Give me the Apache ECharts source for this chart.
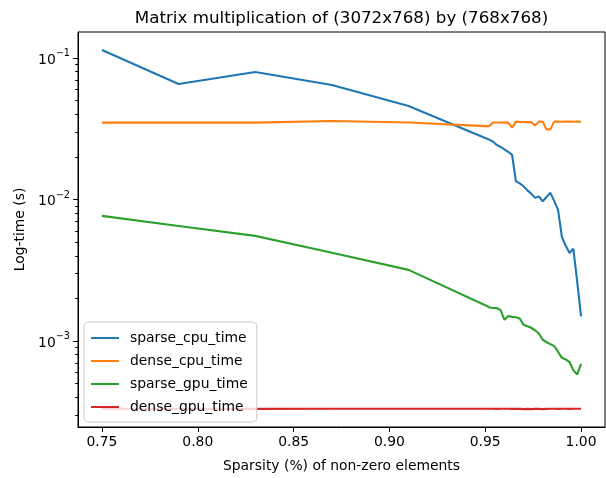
<!DOCTYPE html>
<html>
<head>
<meta charset="utf-8">
<script src="https://cdn.jsdelivr.net/npm/echarts@6/dist/echarts.min.js"></script>
<style>
  html, body { margin: 0; padding: 0; background: #fff; }
  #chart { width: 606px; height: 478px; }
</style>
</head>
<body>
<div id="chart"></div>
<script>
// sparsity values (x)
const sparsity = [
  0.75, 0.79, 0.83, 0.87, 0.91,
  0.95, 0.952, 0.954, 0.956, 0.958, 0.96, 0.962, 0.964, 0.966, 0.968,
  0.97, 0.972, 0.974, 0.976, 0.978, 0.98, 0.982, 0.984, 0.986, 0.988,
  0.99, 0.992, 0.994, 0.996, 0.998, 1.0
]

// timings in seconds
const sparseCpuTime = [
  0.1139, 0.0655, 0.0796, 0.0645, 0.0458,
  0.0272, 0.0265, 0.0257, 0.0243, 0.0235, 0.0226, 0.0217, 0.0207, 0.0135, 0.0130,
  0.0124, 0.0116, 0.0110, 0.01026, 0.01051, 0.00971, 0.01042, 0.01114, 0.00977, 0.00845,
  0.00545, 0.00470, 0.00419, 0.00448, 0.00262, 0.00149
]
const denseCpuTime = [
  0.0349, 0.0349, 0.0349, 0.0359, 0.0350,
  0.0330, 0.0329, 0.0349, 0.0350, 0.0350, 0.0349, 0.0349, 0.0322, 0.0355, 0.0353,
  0.0353, 0.0352, 0.0353, 0.0333, 0.0355, 0.0355, 0.0313, 0.0313, 0.0355, 0.0355,
  0.0354, 0.0355, 0.0355, 0.0354, 0.0355, 0.0354
]
const sparseGpuTime = [
  0.00766, 0.0065, 0.00553, 0.0042, 0.00318,
  0.00179, 0.00173, 0.00171, 0.00171, 0.00165, 0.00141, 0.00150, 0.00148, 0.00147, 0.00144,
  0.00130, 0.00127, 0.00124, 0.00119, 0.00113, 0.00102, 0.00098, 0.00095, 0.00092, 0.00084,
  0.00076, 0.00074, 0.00071, 0.00062, 0.00058, 0.00069
]
const denseGpuTime = [
  0.000332, 0.000332, 0.000331, 0.000332, 0.000332,
  0.000332, 0.000332, 0.000332, 0.000331, 0.000332, 0.000332, 0.000332, 0.000331, 0.000332, 0.000331,
  0.000330, 0.000331, 0.000330, 0.000331, 0.000332, 0.000330, 0.000331, 0.000332, 0.000332, 0.000331,
  0.000332, 0.000332, 0.000331, 0.000332, 0.000332, 0.000332
]

const seriesNames = ['sparse_cpu_time', 'dense_cpu_time', 'sparse_gpu_time', 'dense_gpu_time']
const seriesColors = ['#1f77b4', '#ff7f0e', '#2ca02c', '#d62728']

const xTicks = [0.75, 0.80, 0.85, 0.90, 0.95, 1.00]
const yMajorTicks = [0.001, 0.01, 0.1]
const yMinorTicks = [
  0.0003, 0.0004, 0.0005, 0.0006, 0.0007, 0.0008, 0.0009,
  0.002, 0.003, 0.004, 0.005, 0.006, 0.007, 0.008, 0.009,
  0.02, 0.03, 0.04, 0.05, 0.06, 0.07, 0.08, 0.09
]

const font = 'DejaVu Sans'
const yMin = 0.0002466
const yMax = 0.1526

const chart = echarts.init(document.getElementById('chart'))

const pairs = (ys) => sparsity.map((x, i) => [x, ys[i]])
const allTimes = [sparseCpuTime, denseCpuTime, sparseGpuTime, denseGpuTime]

const option = {
  animation: false,
  backgroundColor: '#fff',
  title: {
    text: 'Matrix multiplication of (3072x768) by (768x768)',
    left: 341.5,
    textAlign: 'center',
    top: 10,
    padding: 0,
    textStyle: { fontFamily: font, fontSize: 16.7, fontWeight: 'normal', color: '#000' },
  },
  grid: {
    left: 78, right: 1, top: 32, bottom: 51,
    show: true, borderColor: '#000', borderWidth: 1, backgroundColor: 'transparent',
  },
  legend: {
    orient: 'vertical',
    left: 84,
    bottom: 56,
    data: seriesNames,
    icon: 'rect',
    itemWidth: 28,
    itemHeight: 2,
    itemGap: 7,
    padding: [8, 9, 7, 7],
    backgroundColor: 'rgba(255,255,255,0.8)',
    borderColor: '#cccccc',
    borderWidth: 1,
    borderRadius: 4,
    textStyle: { fontFamily: font, fontSize: 13.9, color: '#000', lineHeight: 16, padding: [0, 0, 0, 6] },
  },
  xAxis: {
    type: 'value',
    min: 0.7375,
    max: 1.0125,
    name: 'Sparsity (%) of non-zero elements',
    nameLocation: 'middle',
    nameGap: 32,
    nameTextStyle: { fontFamily: font, fontSize: 13.9, color: '#000' },
    axisLine: { show: true, lineStyle: { color: '#000', width: 1 } },
    axisTick: { show: true, length: 4.9, lineStyle: { color: '#000', width: 1 }, customValues: xTicks },
    axisLabel: {
      customValues: xTicks,
      margin: 8,
      fontFamily: font, fontSize: 13.9, color: '#000',
      formatter: (v) => v.toFixed(2),
    },
    splitLine: { show: false },
  },
  yAxis: [
    {
      type: 'log',
      min: yMin,
      max: yMax,
      name: 'Log-time (s)',
      nameLocation: 'middle',
      nameGap: 48,
      nameTextStyle: { fontFamily: font, fontSize: 13.9, color: '#000' },
      axisLine: { show: true, lineStyle: { color: '#000', width: 1 } },
      axisTick: { show: true, length: 4.9, lineStyle: { color: '#000', width: 1 }, customValues: yMajorTicks },
      axisLabel: {
        customValues: yMajorTicks,
        margin: 8,
        formatter: (v) => '{b|10}{e|' + String(Math.round(Math.log10(v))).replace('-', '\u2212') + '}',
        rich: {
          b: { fontFamily: font, fontSize: 13.9, color: '#000', verticalAlign: 'bottom', lineHeight: 18 },
          e: { fontFamily: font, fontSize: 9.7, color: '#000', verticalAlign: 'top', lineHeight: 8 },
        },
      },
      splitLine: { show: false },
      minorTick: { show: false },
    },
    {
      type: 'log',
      min: yMin,
      max: yMax,
      position: 'left',
      axisLine: { show: false },
      axisTick: { show: true, length: 2.8, lineStyle: { color: '#000', width: 1 }, customValues: yMinorTicks },
      axisLabel: { show: false },
      splitLine: { show: false },
    },
  ],
  series: seriesNames.map((name, i) => ({
    name,
    type: 'line',
    data: pairs(allTimes[i]),
    showSymbol: false,
    symbol: 'none',
    lineStyle: { color: seriesColors[i], width: 2.1 },
    itemStyle: { color: seriesColors[i] },
    z: 2 + i * 0.01,
  })),
}

chart.setOption(option)
</script>
</body>
</html>
